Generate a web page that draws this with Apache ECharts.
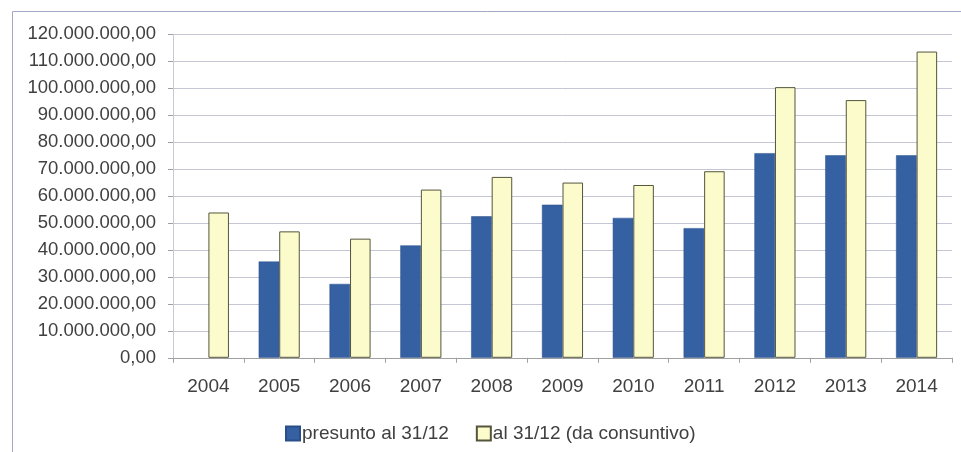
<!DOCTYPE html>
<html>
<head>
<meta charset="utf-8">
<script src="https://cdn.jsdelivr.net/npm/echarts@6/dist/echarts.min.js"></script>
<style>
html,body{margin:0;padding:0;background:#fff;}
#chart{width:961px;height:452px;}
</style>
</head>
<body>
<div id="chart"></div>
<script>
const categories = ['2004','2005','2006','2007','2008','2009','2010','2011','2012','2013','2014'];
const presunto = [null, 35.7e6, 27.4e6, 41.7e6, 52.5e6, 56.8e6, 51.9e6, 48.1e6, 75.9e6, 75.1e6, 75.1e6];
const consuntivo = [53.9e6, 46.9e6, 44.2e6, 62.4e6, 67.1e6, 65.0e6, 64.1e6, 69.2e6, 100.4e6, 95.6e6, 113.6e6];
const seriesNames = ['presunto al 31/12', 'al 31/12 (da consuntivo)'];

function fmt(v) {
  const s = Math.round(v).toString().replace(/\B(?=(\d{3})+(?!\d))/g, '.');
  return s + ',00';
}

const chart = echarts.init(document.getElementById('chart'));
const font = '"Liberation Sans", Arial, sans-serif';
chart.setOption({
  backgroundColor: '#ffffff',
  animation: false,
  textStyle: { fontFamily: font, color: '#404040' },
  graphic: [{
    type: 'rect',
    shape: { x: 12.5, y: 11.5, width: 1000, height: 500 },
    style: { fill: 'none', stroke: '#a4a8c4', lineWidth: 1 },
    silent: true
  }],
  grid: { left: 173, right: 9, top: 34.3, bottom: 94.2, containLabel: false },
  legend: {
    top: 419,
    left: 280,
    itemWidth: 14,
    itemHeight: 14,
    itemGap: 27,
    icon: 'rect',
    textStyle: { fontSize: 19, color: '#404040', fontFamily: font, padding: [0,0,0,-3] },
    data: seriesNames
  },
  xAxis: {
    type: 'category',
    data: categories,
    axisLine: { lineStyle: { color: '#a0a0a0', width: 1 } },
    axisTick: { show: true, length: 5, lineStyle: { color: '#a0a0a0' } },
    axisLabel: { fontSize: 19, color: '#404040', margin: 19, fontFamily: font },
    splitLine: { show: false }
  },
  yAxis: {
    type: 'value',
    min: 0,
    max: 120e6,
    interval: 10e6,
    axisLine: { show: true, lineStyle: { color: '#c8c8d8', width: 1 } },
    axisTick: { show: true, length: 5, lineStyle: { color: '#a0a0a0' } },
    axisLabel: { fontSize: 18.5, color: '#404040', margin: 17, fontFamily: font, formatter: fmt },
    splitLine: { show: true, lineStyle: { color: '#c4c6d4', width: 1 } }
  },
  series: [
    {
      name: seriesNames[0],
      type: 'bar',
      data: presunto,
      barGap: '0%',
      barCategoryGap: '42%',
      itemStyle: { color: '#3561a3', borderColor: '#2a4f88', borderWidth: 0.5 }
    },
    {
      name: seriesNames[1],
      type: 'bar',
      data: consuntivo,
      barGap: '0%',
      barCategoryGap: '42%',
      itemStyle: { color: '#fbfbcc', borderColor: '#55553c', borderWidth: 1 }
    }
  ]
});
</script>
</body>
</html>
